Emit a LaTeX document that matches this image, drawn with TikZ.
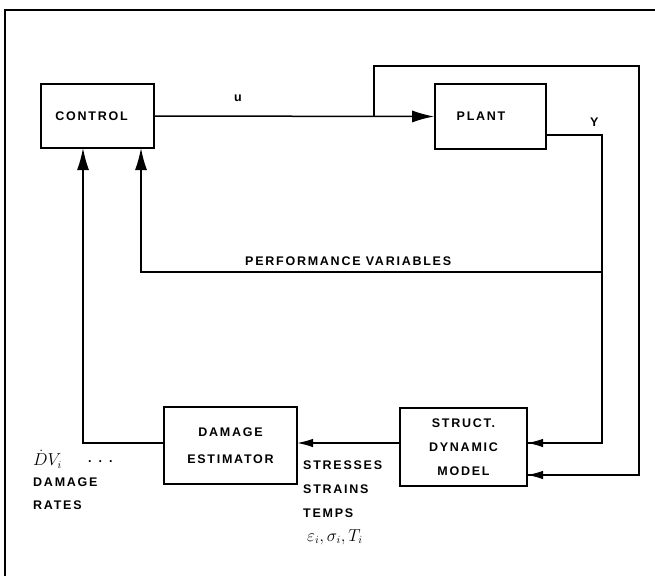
\documentclass[tikz,border=0pt]{standalone}
\usepackage{fontspec}
\setmainfont{Liberation Sans}[LetterSpace=14]
\usetikzlibrary{arrows.meta,positioning}

\begin{document}
\begin{tikzpicture}[
        x=1pt, y=-1pt,
        font=\fontsize{12.5}{14}\selectfont\bfseries,
        box/.style={rectangle, draw=black, line width=1.6pt, inner sep=0pt, align=center},
        lbl/.style={inner sep=0pt, anchor=west, align=left},
        wire/.style={line width=1.5pt},
        bigarrow/.style={-{Latex[length=22pt,width=12pt]}, line width=1.5pt},
        smallarrow/.style={-{Latex[length=16pt,width=8.5pt]}, line width=1.5pt}
    ]
    \useasboundingbox (0,0) rectangle (655,576);
    \draw[line width=2.4pt] (5,576) -- (5,10) -- (655,10);

    \node[box, minimum width=113pt, minimum height=64pt] (control) at (97.5,116) {CONTROL\hspace{12pt}};
    \node[box, minimum width=111pt, minimum height=65pt] (plant) at (490.5,116.5) {PLANT\hspace{19pt}};
    \node[box, minimum width=133pt, minimum height=77pt] (damage) at (230.5,445.5) {DAMAGE\\[13pt]ESTIMATOR\hspace{10pt}};
    \node[box, minimum width=127pt, minimum height=78pt] (struct) at (463.5,447) {STRUCT.\hspace{10pt}\\[10pt]DYNAMIC\\[10pt]MODEL};

    \coordinate (branch) at (374,116);
    \coordinate (branchtop) at (374,66);
    \coordinate (outertop) at (639,66);
    \coordinate (lowin) at (527,475);
    \coordinate (yout) at (546,135);
    \coordinate (ycorner) at (602,135);
    \coordinate (highin) at (527,443);
    \coordinate (perfjoin) at (602,272);
    \coordinate (perfin) at (141,148);
    \coordinate (dmgin) at (83,148);
    \coordinate (stressout) at (400,443);
    \coordinate (stressin) at (297,443);
    \coordinate (dmgout) at (164,443);

    \node[lbl] (ulabel) at (234,98) {u};
    \node[lbl] (ylabel) at (590,122) {Y};
    \node[lbl] (perflabel) at (245,261) {PERFORMANCE VARIABLES};

    \node[lbl] (dvlabel) at (33,459) {\fontsize{16}{18}\selectfont$\dot{D}V_{i}$};
    \node[lbl] (dotslabel) at (88,462) {. . .};
    \node[lbl] (dmglabel) at (33,482) {DAMAGE};
    \node[lbl] (ratelabel) at (33,505) {RATES};

    \node[lbl] (stresslabel) at (303,465) {STRESSES};
    \node[lbl] (strainlabel) at (303,489) {STRAINS};
    \node[lbl] (templabel) at (303,513) {TEMPS};
    \node[lbl] (symlabel) at (307,537) {\fontsize{16}{18}\selectfont$\varepsilon_{i},\sigma_{i},T_{i}$};

    \draw[bigarrow] (control.east) -- (plant.west);
    \draw[wire] (branch) -- (branchtop) -- (outertop) |- (lowin);
    \draw[smallarrow] (outertop |- lowin) -- (lowin);
    \draw[wire] (yout) -- (ycorner) |- (highin);
    \draw[smallarrow] (ycorner |- highin) -- (highin);
    \draw[bigarrow] (perfjoin) -| (perfin);
    \draw[smallarrow] (stressout) -- (stressin);
    \draw[bigarrow] (dmgout) -| (dmgin);
\end{tikzpicture}
\end{document}
